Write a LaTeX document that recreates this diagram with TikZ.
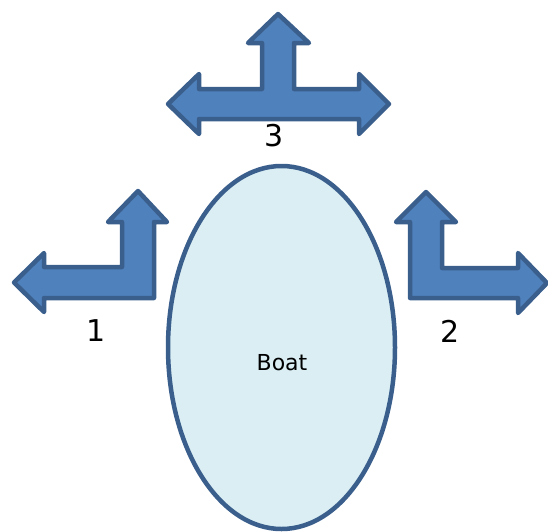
\documentclass[tikz,border=0pt]{standalone}
\usepackage{fontspec}
\setmainfont{DejaVu Sans}
\begin{document}
\begin{tikzpicture}[x=1pt,y=-1pt,
  arrowshape/.style={fill=arrowfill, draw=arrowline, line width=4.5pt, line join=round},
  hull/.style={fill=hullfill, draw=hullline, line width=4.5pt},
  numlabel/.style={font=\fontsize{30}{32}\selectfont, inner sep=0pt},
  hulllabel/.style={font=\fontsize{22}{26}\selectfont, inner sep=0pt}]
\definecolor{arrowfill}{HTML}{4F81BD}
\definecolor{arrowline}{HTML}{3A5F8C}
\definecolor{hullfill}{HTML}{DAEEF3}
\definecolor{hullline}{HTML}{3A5F8C}
\useasboundingbox (0,0) rectangle (548,531);

% left-right-up arrow (3)
\draw[arrowshape] (278,14) -- (309,43) -- (294,43) -- (294,89) -- (359,89) -- (359,74)
  -- (389,104) -- (359,134) -- (359,119) -- (199,119) -- (199,134) -- (168,104)
  -- (199,74) -- (199,89) -- (262,89) -- (262,43) -- (248,43) -- cycle;

% left-up arrow (1)
\draw[arrowshape] (138,191) -- (167,222) -- (154,222) -- (154,298) -- (44,298)
  -- (44,312) -- (14,282.5) -- (44,253) -- (44,267) -- (122,267) -- (122,222)
  -- (108,222) -- cycle;

% right-up arrow (2)
\draw[arrowshape] (426,192) -- (456,222) -- (442,222) -- (442,268) -- (518,268)
  -- (518,253) -- (547,283) -- (518,313) -- (518,298) -- (410,298) -- (410,222)
  -- (396,222) -- cycle;

% the boat
\draw[hull] (281.5,347.5) ellipse [x radius=113.5, y radius=181.5];
\node[hulllabel] (boat) at (282,363) {Boat};

\node[numlabel] (n3) at (274,136) {3};
\node[numlabel] (n1) at (96,331) {1};
\node[numlabel] (n2) at (450,331) {2};
\end{tikzpicture}
\end{document}
